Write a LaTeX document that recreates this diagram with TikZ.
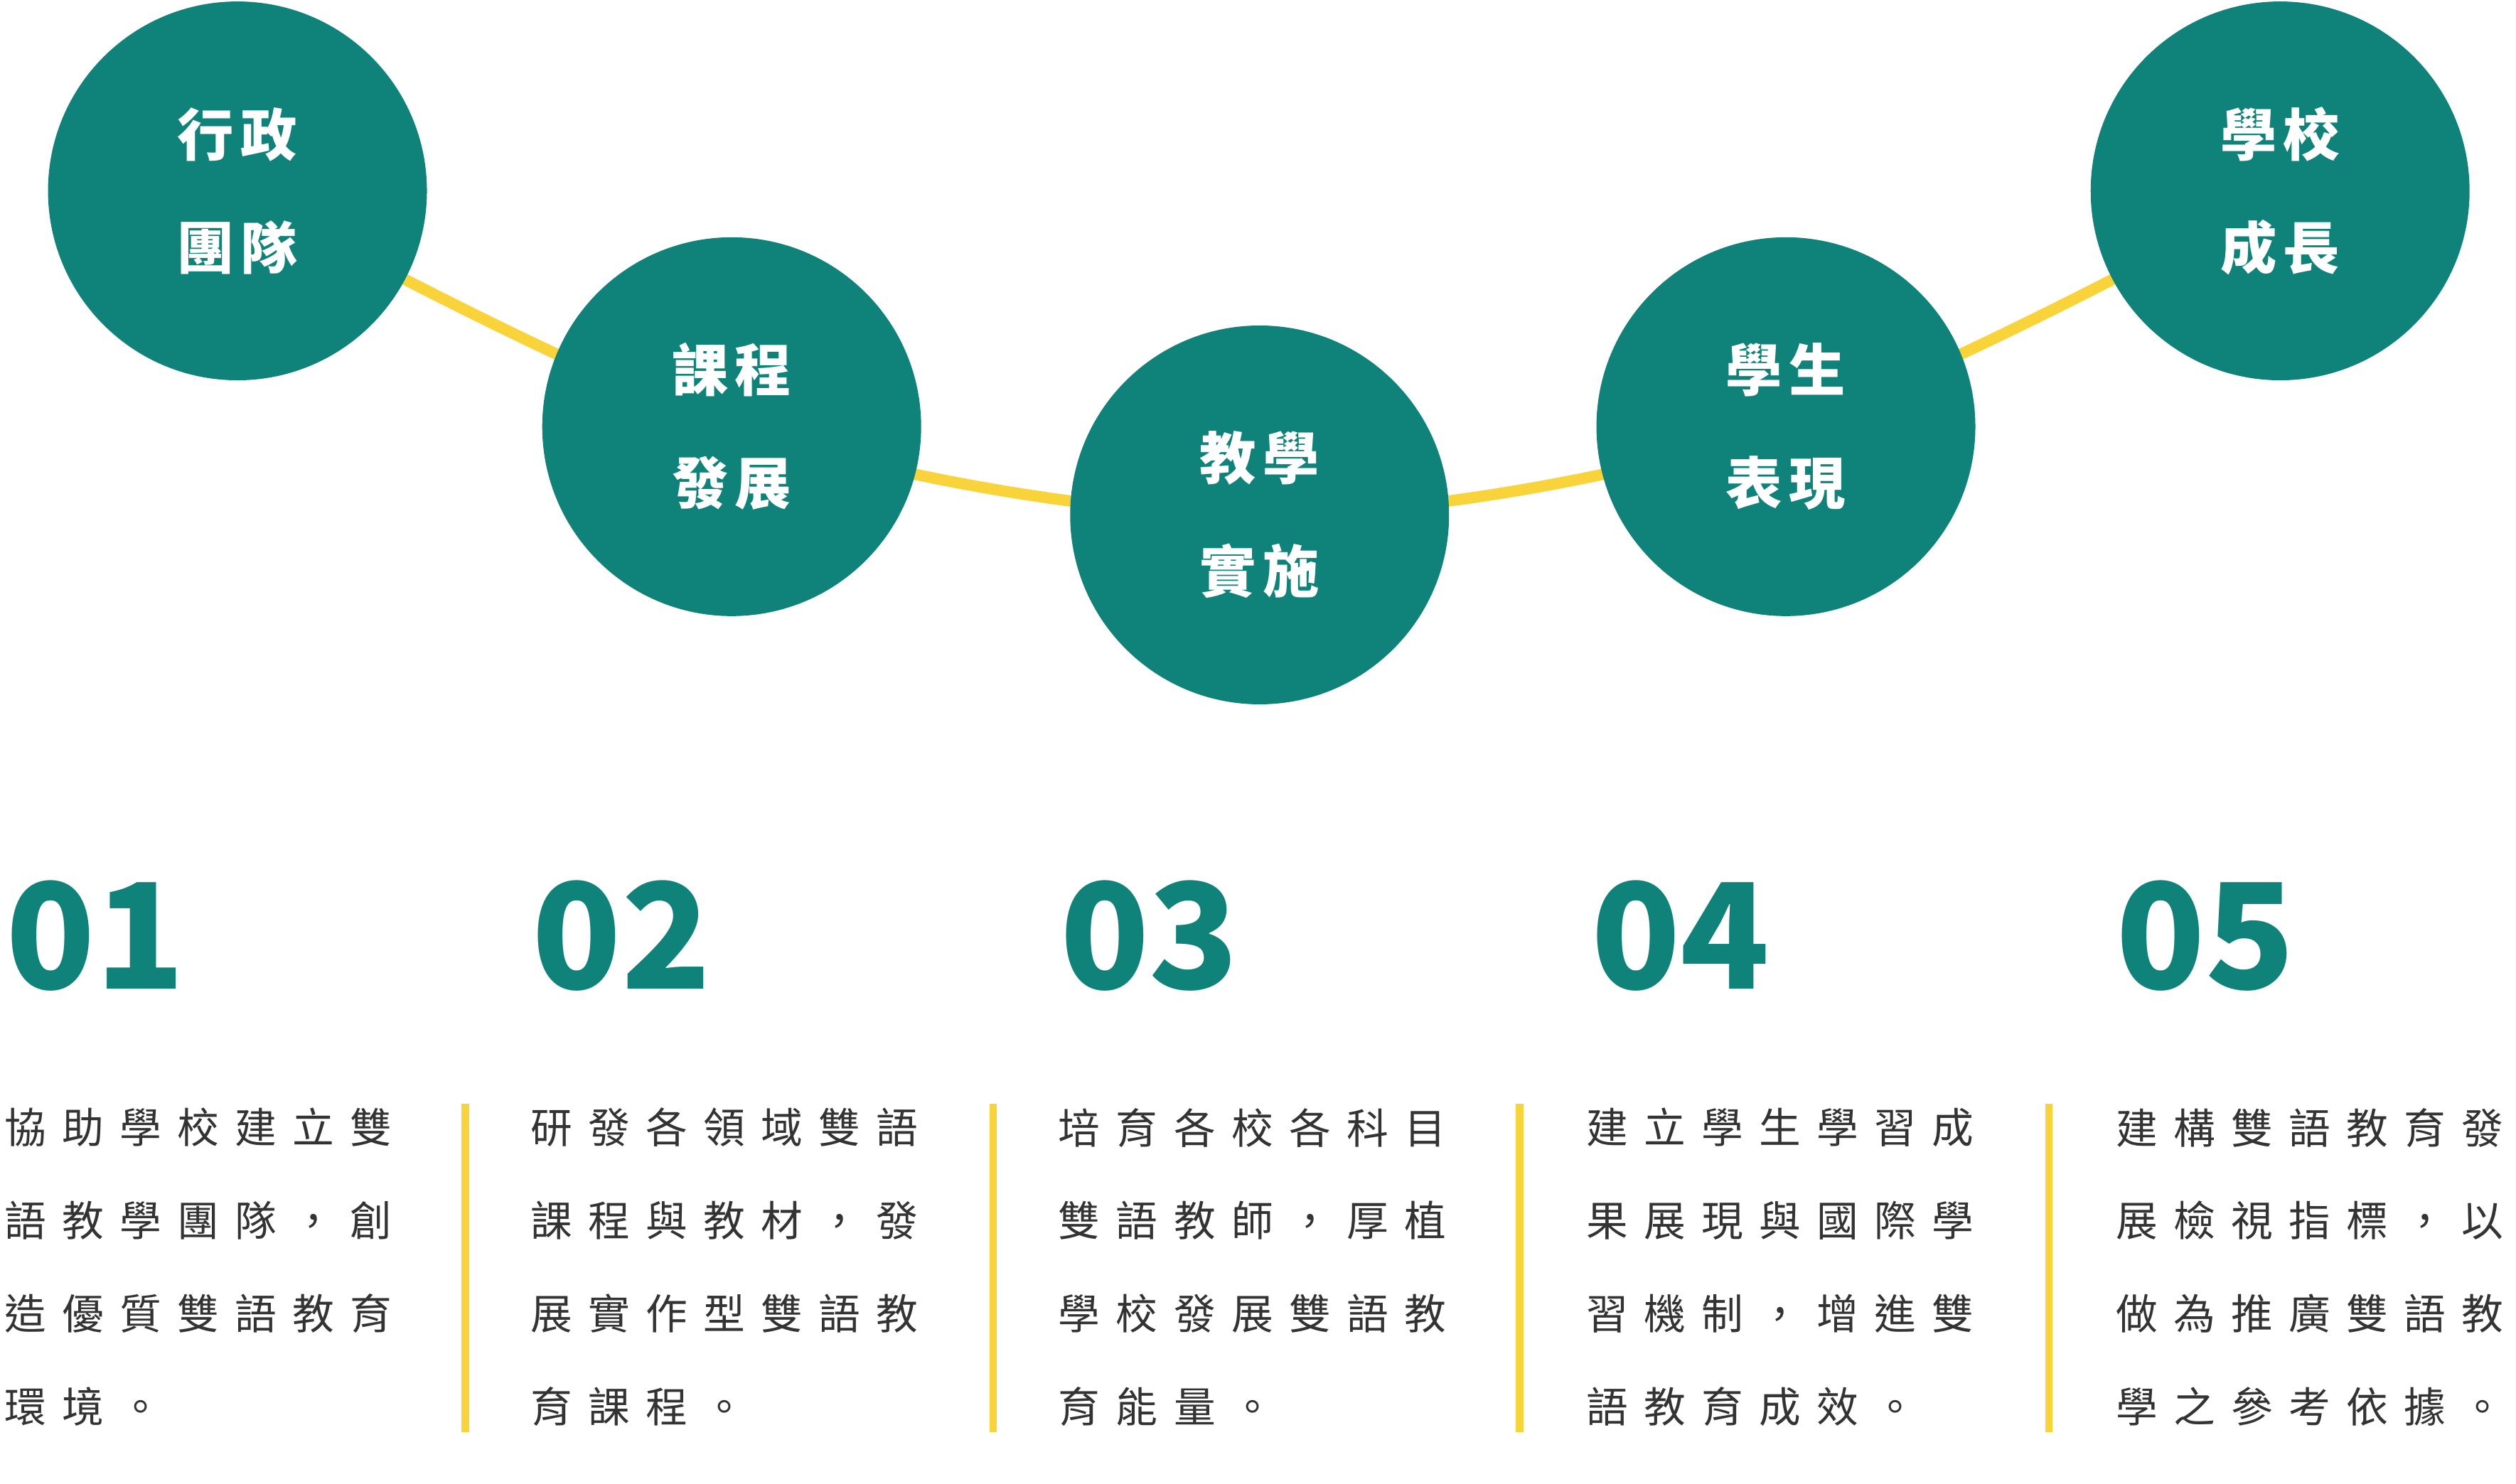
\documentclass[tikz,border=0pt]{standalone}
\usepackage{fontspec}
\setmainfont{Noto Sans CJK TC}
\definecolor{teal}{HTML}{0F8279}
\definecolor{gold}{HTML}{F9D33A}
\usetikzlibrary{positioning}
\tikzset{
  stage/.style={circle, fill=teal, minimum size=2.36cm, inner sep=0pt, align=center,
    text=white, font=\fontsize{10pt}{20pt}\selectfont\bfseries\addfontfeature{LetterSpace=12}},
  stepnum/.style={anchor=north west, inner sep=0pt, text=teal,
    font=\fontsize{26pt}{26pt}\selectfont\bfseries},
  desc/.style={anchor=north west, inner sep=0pt, align=left, text=black!80,
    font=\fontsize{7.4pt}{16.5pt}\selectfont\addfontfeature{LetterSpace=38}},
  divider/.style={gold, line width=1.3pt}
}
\begin{document}
\begin{tikzpicture}[x=0.01cm, y=-0.01cm]

\path [use as bounding box] (0,0) rectangle (1568,925);

% CURVE
\draw [gold, line width=2pt] plot [smooth, tension=0.55] coordinates {(148,119) (456,266) (785,321) (1113,266) (1421,119)};

% STAGES
\node [stage] (s1) at (148,119) {行政\\團隊};
\node [stage] (s2) at (456,266) {課程\\發展};
\node [stage] (s3) at (785,321) {教學\\實施};
\node [stage] (s4) at (1113,266) {學生\\表現};
\node [stage] (s5) at (1421,119) {學校\\成長};

% NUMBERS
\node [stepnum] (n1) at (3,548) {01};
\node [stepnum] (n2) at (331,548) {02};
\node [stepnum] (n3) at (660,548) {03};
\node [stepnum] (n4) at (991,548) {04};
\node [stepnum] (n5) at (1318,548) {05};

% TEXTS
\node [desc] (t1) at (2,690) {協助學校建立雙\\語教學團隊，創\\造優質雙語教育\\環境。};
\node [desc] (t2) at (330,690) {研發各領域雙語\\課程與教材，發\\展實作型雙語教\\育課程。};
\node [desc] (t3) at (659,690) {培育各校各科目\\雙語教師，厚植\\學校發展雙語教\\育能量。};
\node [desc] (t4) at (988,690) {建立學生學習成\\果展現與國際學\\習機制，增進雙\\語教育成效。};
\node [desc] (t5) at (1318,690) {建構雙語教育發\\展檢視指標，以\\做為推廣雙語教\\學之參考依據。};

% DIVIDERS
\draw [divider] (290,688) -- (290,893);
\draw [divider] (619,688) -- (619,893);
\draw [divider] (947,688) -- (947,893);
\draw [divider] (1277,688) -- (1277,893);

\end{tikzpicture}
\end{document}
